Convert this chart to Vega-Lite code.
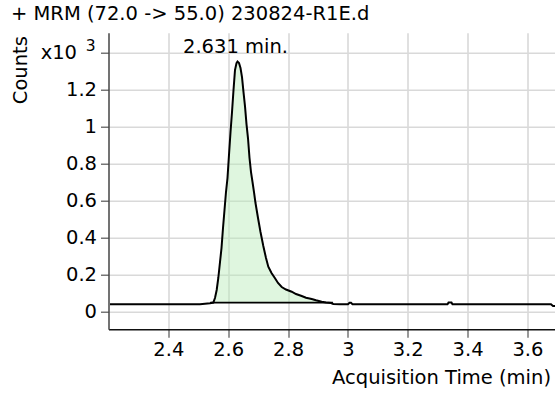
{
  "$schema": "https://vega.github.io/schema/vega-lite/v6.json",
  "width": 446.5,
  "height": 296.6,
  "autosize": {"type": "none"},
  "padding": {"left": 108.5, "top": 32.7, "right": 0, "bottom": 64.7},
  "background": "white",
  "config": {
    "view": {"stroke": null},
    "font": "DejaVu Sans",
    "axis": {
      "gridColor": "#d9d9d9",
      "gridWidth": 1.6,
      "tickColor": "#555555",
      "tickSize": 8,
      "tickWidth": 1.2,
      "labelFont": "DejaVu Sans",
      "labelFontSize": 19.5,
      "labelColor": "#000000",
      "titleFont": "DejaVu Sans",
      "titleFontSize": 19.5,
      "titleFontWeight": "normal",
      "titleColor": "#000000"
    }
  },
  "title": {
    "text": "+ MRM (72.0 -> 55.0) 230824-R1E.d",
    "anchor": "start",
    "frame": "group",
    "dx": -97.5,
    "offset": -7,
    "baseline": "alphabetic",
    "font": "DejaVu Sans",
    "fontSize": 19.5,
    "fontWeight": "normal",
    "color": "#000000"
  },
  "datasets": {
    "signal": [
      {"t": 2.2050, "c": 0.0399},
      {"t": 2.5058, "c": 0.0399},
      {"t": 2.5225, "c": 0.0426},
      {"t": 2.5392, "c": 0.0459},
      {"t": 2.5503, "c": 0.0496},
      {"t": 2.5559, "c": 0.0739},
      {"t": 2.5616, "c": 0.1171},
      {"t": 2.5670, "c": 0.1819},
      {"t": 2.5727, "c": 0.2682},
      {"t": 2.5777, "c": 0.3438},
      {"t": 2.5827, "c": 0.4517},
      {"t": 2.5877, "c": 0.5488},
      {"t": 2.5927, "c": 0.6460},
      {"t": 2.5977, "c": 0.7215},
      {"t": 2.6027, "c": 0.8457},
      {"t": 2.6078, "c": 0.9698},
      {"t": 2.6128, "c": 1.0777},
      {"t": 2.6178, "c": 1.1964},
      {"t": 2.6228, "c": 1.3044},
      {"t": 2.6278, "c": 1.3421},
      {"t": 2.6311, "c": 1.3502},
      {"t": 2.6362, "c": 1.3421},
      {"t": 2.6412, "c": 1.3152},
      {"t": 2.6462, "c": 1.2666},
      {"t": 2.6512, "c": 1.1856},
      {"t": 2.6562, "c": 1.1101},
      {"t": 2.6612, "c": 1.0130},
      {"t": 2.6662, "c": 0.9374},
      {"t": 2.6713, "c": 0.8295},
      {"t": 2.6763, "c": 0.7539},
      {"t": 2.6813, "c": 0.7000},
      {"t": 2.6863, "c": 0.6460},
      {"t": 2.6913, "c": 0.5866},
      {"t": 2.6997, "c": 0.5057},
      {"t": 2.7080, "c": 0.4301},
      {"t": 2.7174, "c": 0.3546},
      {"t": 2.7264, "c": 0.2898},
      {"t": 2.7341, "c": 0.2428},
      {"t": 2.7448, "c": 0.2089},
      {"t": 2.7565, "c": 0.1802},
      {"t": 2.7665, "c": 0.1549},
      {"t": 2.7789, "c": 0.1333},
      {"t": 2.7932, "c": 0.1198},
      {"t": 2.8123, "c": 0.1079},
      {"t": 2.8267, "c": 0.0955},
      {"t": 2.8457, "c": 0.0847},
      {"t": 2.8601, "c": 0.0756},
      {"t": 2.8791, "c": 0.0685},
      {"t": 2.8935, "c": 0.0615},
      {"t": 2.9126, "c": 0.0540},
      {"t": 2.9269, "c": 0.0496},
      {"t": 2.9437, "c": 0.0470},
      {"t": 2.9513, "c": 0.0416},
      {"t": 2.9737, "c": 0.0405},
      {"t": 3.0005, "c": 0.0405},
      {"t": 3.0055, "c": 0.0480},
      {"t": 3.0105, "c": 0.0480},
      {"t": 3.0155, "c": 0.0405},
      {"t": 3.3330, "c": 0.0405},
      {"t": 3.3364, "c": 0.0490},
      {"t": 3.3464, "c": 0.0490},
      {"t": 3.3497, "c": 0.0405},
      {"t": 3.6789, "c": 0.0399},
      {"t": 3.6856, "c": 0.0308},
      {"t": 3.6923, "c": 0.0308}
    ],
    "baseline": [
      {"t0": 2.54, "t1": 2.95, "c": 0.049}
    ],
    "peakLabel": [
      {"t": 2.6311, "c": 1.3502, "label": "2.631 min."}
    ],
    "exponent": [
      {"t": 2.2, "c": 1.4, "label": "3"}
    ]
  },
  "layer": [
    {
      "data": {"name": "signal"},
      "transform": [{"filter": "datum.t >= 2.5503 && datum.t <= 2.9437"}],
      "mark": {"type": "area", "color": "#b8ecb8", "fillOpacity": 0.45},
      "encoding": {
        "x": {
          "field": "t",
          "type": "quantitative",
          "scale": {"domain": [2.2, 3.6923], "nice": false, "zero": false},
          "axis": {
            "values": [2.4, 2.6, 2.8, 3, 3.2, 3.4, 3.6],
            "format": "~g",
            "grid": true,
            "domainColor": "#111111",
            "domainWidth": 1.5,
            "labelPadding": 3,
            "title": "Acquisition Time (min)",
            "titleX": 442,
            "titleY": 54,
            "titleAlign": "right",
            "titleBaseline": "alphabetic"
          }
        },
        "y": {
          "field": "c",
          "type": "quantitative",
          "scale": {"domain": [-0.095, 1.506], "nice": false, "zero": false},
          "axis": {
            "values": [0, 0.2, 0.4, 0.6, 0.8, 1, 1.2, 1.4],
            "labelExpr": "datum.value > 1.3 ? 'x10' : format(datum.value, '~g')",
            "labelPadding": {"condition": {"test": "datum.value > 1.3", "value": 24}, "value": 4},
            "grid": true,
            "domainColor": "#444444",
            "domainWidth": 1.5,
            "title": "Counts",
            "titleAngle": -90,
            "titleX": -88.5,
            "titleY": 37,
            "titleAlign": "center",
            "titleBaseline": "middle"
          }
        },
        "y2": {"datum": 0.049}
      }
    },
    {
      "data": {"name": "baseline"},
      "mark": {"type": "rule", "color": "#000000", "strokeWidth": 1.6},
      "encoding": {
        "x": {"field": "t0", "type": "quantitative"},
        "x2": {"field": "t1"},
        "y": {"field": "c", "type": "quantitative"}
      }
    },
    {
      "data": {"name": "signal"},
      "mark": {"type": "line", "color": "#000000", "strokeWidth": 2, "interpolate": "linear"},
      "encoding": {
        "x": {"field": "t", "type": "quantitative"},
        "y": {"field": "c", "type": "quantitative"}
      }
    },
    {
      "data": {"name": "peakLabel"},
      "mark": {"type": "text", "font": "DejaVu Sans", "fontSize": 19.5, "color": "#000000", "align": "center", "baseline": "alphabetic", "dx": -2, "dy": -9},
      "encoding": {
        "x": {"field": "t", "type": "quantitative"},
        "y": {"field": "c", "type": "quantitative"},
        "text": {"field": "label"}
      }
    },
    {
      "data": {"name": "exponent"},
      "mark": {"type": "text", "font": "DejaVu Sans", "fontSize": 15.5, "color": "#000000", "align": "right", "baseline": "alphabetic", "dx": -13, "dy": -1, "clip": false},
      "encoding": {
        "x": {"field": "t", "type": "quantitative"},
        "y": {"field": "c", "type": "quantitative"},
        "text": {"field": "label"}
      }
    }
  ]
}
